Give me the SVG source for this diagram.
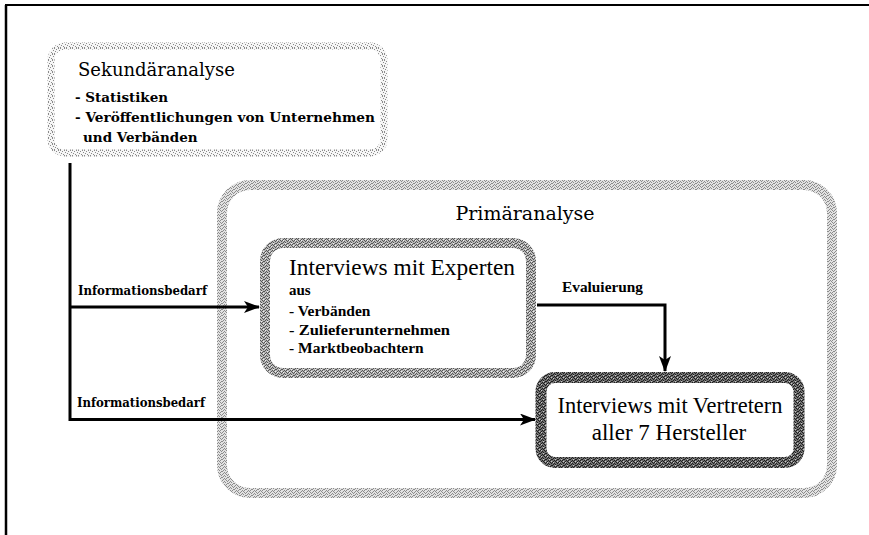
<svg xmlns="http://www.w3.org/2000/svg" width="869" height="535" viewBox="0 0 869 535">
<defs>
<style>
.serif{font-family:"Liberation Serif","Times New Roman",serif;fill:#000}
.cent{font-family:"DejaVu Serif","Liberation Serif",serif;fill:#000}
.b{font-weight:bold}
.conn{fill:none;stroke:#000;stroke-width:3}
</style>
<pattern id="pLight" width="6" height="6" patternUnits="userSpaceOnUse">
<rect width="6" height="6" fill="#f6f6f6"/>
<path d="M0 0h1v1h-1z M4 0h1v1h-1z M2 1h1v1h-1z M5 2h1v1h-1z M1 3h1v1h-1z M3 4h1v1h-1z M0 5h1v1h-1z M4 5h1v1h-1z" fill="#8a8a8a"/>
</pattern>
<pattern id="pMid" width="6" height="6" patternUnits="userSpaceOnUse">
<rect width="6" height="6" fill="#e2e2e2"/>
<path d="M0 0h1v1h-1z M4 0h1v1h-1z M2 1h1v1h-1z M5 1h1v1h-1z M1 2h1v1h-1z M3 2h1v1h-1z M0 3h1v1h-1z M5 3h1v1h-1z M2 4h1v1h-1z M4 4h1v1h-1z M1 5h1v1h-1z M3 5h1v1h-1z" fill="#8c8c8c"/>
</pattern>
<pattern id="pDark" width="6" height="6" patternUnits="userSpaceOnUse">
<rect width="6" height="6" fill="#b8b8b8"/>
<path d="M0 0h1v1h-1z M4 0h1v1h-1z M2 1h1v1h-1z M5 1h1v1h-1z M1 2h1v1h-1z M3 2h1v1h-1z M0 3h1v1h-1z M5 3h1v1h-1z M2 4h1v1h-1z M4 4h1v1h-1z M1 5h1v1h-1z M3 5h1v1h-1z" fill="#555"/>
<path d="M1 0h1v1h-1z M3 3h1v1h-1z M5 5h1v1h-1z" fill="#eee"/>
</pattern>
<pattern id="pDarker" width="6" height="6" patternUnits="userSpaceOnUse">
<rect width="6" height="6" fill="#707070"/>
<path d="M0 0h1v1h-1z M4 0h1v1h-1z M2 1h1v1h-1z M5 1h1v1h-1z M1 2h1v1h-1z M3 2h1v1h-1z M0 3h1v1h-1z M5 3h1v1h-1z M2 4h1v1h-1z M4 4h1v1h-1z M1 5h1v1h-1z M3 5h1v1h-1z" fill="#1e1e1e"/>
<path d="M1 0h1v1h-1z M3 3h1v1h-1z M5 5h1v1h-1z" fill="#c8c8c8"/>
</pattern>
<marker id="arr" viewBox="0 0 16 12" refX="15" refY="6" markerWidth="16" markerHeight="12" markerUnits="userSpaceOnUse" orient="auto">
<path d="M0,0 L16,6 L0,12 L4,6 z" fill="#000"/>
</marker>
</defs>
<rect width="869" height="535" fill="#fff"/>
<g id="frame" fill="none" stroke="#000">
<line x1="5" y1="5" x2="869" y2="5" stroke-width="2"/>
<line x1="6" y1="5" x2="6" y2="535" stroke-width="2.5"/>
</g>
<g id="sekundaer">
<rect x="51" y="46" width="333" height="107" rx="14" fill="#fff" stroke="url(#pLight)" stroke-width="7"/>
<text class="cent" x="78" y="76" font-size="18">Sekundäranalyse</text>
<text class="cent b" x="75" y="102" font-size="13.5">- Statistiken</text>
<text class="cent b" x="75" y="122" font-size="13.5" textLength="300" lengthAdjust="spacingAndGlyphs">- Veröffentlichungen von Unternehmen</text>
<text class="cent b" x="83" y="142" font-size="13.5">und Verbänden</text>
</g>
<g id="primaer">
<rect x="222" y="185" width="610" height="308" rx="28" fill="none" stroke="url(#pMid)" stroke-width="10"/>
<text class="cent" x="525" y="220" font-size="19" text-anchor="middle">Primäranalyse</text>
</g>
<g id="experten">
<rect x="265" y="243" width="266" height="130" rx="18" fill="#fff" stroke="url(#pDark)" stroke-width="10"/>
<text class="serif" x="289" y="275" font-size="23" textLength="226" lengthAdjust="spacingAndGlyphs">Interviews mit Experten</text>
<text class="serif b" x="289" y="295" font-size="15">aus</text>
<text class="serif b" x="289" y="316" font-size="15.5">- Verbänden</text>
<text class="serif b" x="289" y="335" font-size="15.5" textLength="161" lengthAdjust="spacingAndGlyphs">- Zulieferunternehmen</text>
<text class="serif b" x="289" y="353" font-size="15.5">- Marktbeobachtern</text>
</g>
<g id="vertreter">
<rect x="541" y="377.5" width="258" height="85" rx="14" fill="#fff" stroke="url(#pDarker)" stroke-width="11"/>
<text class="serif" x="670" y="413" font-size="23" text-anchor="middle" textLength="225" lengthAdjust="spacingAndGlyphs">Interviews mit  Vertretern</text>
<text class="serif" x="669" y="440" font-size="23" text-anchor="middle">aller 7 Hersteller</text>
</g>
<g id="connectors">
<line class="conn" x1="70" y1="163" x2="70" y2="421"/>
<line class="conn" x1="70" y1="307" x2="259" y2="307" marker-end="url(#arr)"/>
<line class="conn" x1="70" y1="419.5" x2="535" y2="419.5" marker-end="url(#arr)"/>
<polyline class="conn" points="537,305 665,305 665,371" marker-end="url(#arr)"/>
<text class="cent b" x="78" y="295" font-size="12" textLength="129" lengthAdjust="spacingAndGlyphs">Informationsbedarf</text>
<text class="cent b" x="77" y="407" font-size="12" textLength="128" lengthAdjust="spacingAndGlyphs">Informationsbedarf</text>
<text class="serif b" x="562" y="292" font-size="14" textLength="81" lengthAdjust="spacingAndGlyphs">Evaluierung</text>
</g>
</svg>
